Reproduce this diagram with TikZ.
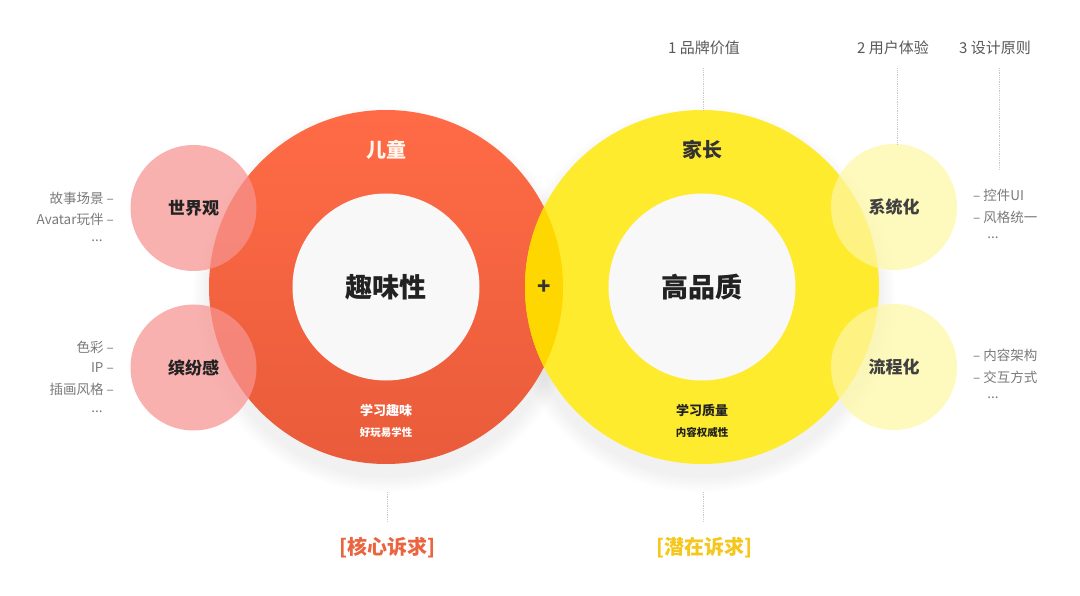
\documentclass[tikz,border=0pt]{standalone}
\usepackage{fontspec}
\setmainfont{Noto Sans CJK SC}
\usetikzlibrary{positioning}

\definecolor{redtop}{HTML}{FF6B46}
\definecolor{redbot}{HTML}{E95B3A}
\definecolor{yelring}{HTML}{FEEB2E}
\definecolor{yellens}{HTML}{FFD700}
\definecolor{corefill}{HTML}{F8F8F8}
\definecolor{pinkc}{HTML}{F89491}
\definecolor{paleyel}{HTML}{FEF7A3}
\definecolor{ink}{HTML}{222222}
\definecolor{notegray}{HTML}{7A7A7A}
\definecolor{guidegray}{HTML}{C8C8C8}
\definecolor{tagred}{HTML}{E9643F}
\definecolor{tagyel}{HTML}{F5C61C}

\begin{document}
\begin{tikzpicture}[x=1pt,y=1pt]

\newcommand{\rbig}{177}
\newcommand{\rcore}{93.5}
\newcommand{\rpet}{63}
\newcommand{\fsz}[1]{\fontsize{#1}{#1}\selectfont}

\tikzstyle{core}=[circle,fill=corefill,minimum size={2*\rcore},inner sep=0,font=\fsz{27}\bfseries,text=ink]
\tikzstyle{petal}=[circle,minimum size={2*\rpet},inner sep=0,fill opacity=0.72,text opacity=1,font=\fsz{17}\bfseries,text=ink]
\tikzstyle{note}=[font=\fsz{13.5},text=notegray,inner sep=1]
\tikzstyle{toplabel}=[font=\fsz{15},text=black!65,inner sep=1]
\tikzstyle{guide}=[guidegray,densely dotted,line width=0.8]
\tikzstyle{tag}=[font=\fsz{20}\bfseries]

\fill[white] (0,0) rectangle (1080,-596);
\useasboundingbox (0,0) rectangle (1080,-596);

% soft shadow under the rings
\foreach \cx in {386,702}
{
    \foreach \k in {1,...,14}
    {
        \fill[black,opacity=0.0035] (\cx,-299) circle ({\rbig+\k*1.2});
    }
}

% the two rings and their lens
\shade[top color=redtop,bottom color=redbot] (386,-287) circle (\rbig);
\fill[yelring] (702,-287) circle (\rbig);
\begin{scope}
    \clip (386,-287) circle (\rbig);
    \fill[yellens] (702,-287) circle (\rbig);
\end{scope}

\node[core] (quwei) at (386,-287) {趣味性};
\node[core] (pinzhi) at (702,-287) {高品质};

\node[font=\fsz{20}\bfseries,text=white!94!orange] (ertong) at (386,-150) {儿童};
\node[font=\fsz{20}\bfseries,text=black!80] (jiazhang) at (702,-150) {家长};
\node[font=\fsz{22}\bfseries,text=black!80] (plus) at (544,-287) {+};

\node[font=\fsz{13}\bfseries,text=white] (quxue) at (386,-411) {学习趣味};
\node[font=\fsz{10.5}\bfseries,text=white,below=3pt of quxue] (quxue2) {好玩易学性};
\node[font=\fsz{13}\bfseries,text=ink] (zhiliang) at (702,-411) {学习质量};
\node[font=\fsz{10.5}\bfseries,text=ink,below=3pt of zhiliang] (zhiliang2) {内容权威性};

% small circles
\node[petal,fill=pinkc] (shijie) at (193.5,-208) {世界观};
\node[petal,fill=pinkc] (binfen) at (193.5,-367.5) {缤纷感};
\node[petal,fill=paleyel,text=black!75] (xitong) at (894,-207) {系统化};
\node[petal,fill=paleyel,text=black!75] (liucheng) at (894,-367) {流程化};

% side notes
\node[note,anchor=east] (n1) at (115,-198) {故事场景 –};
\node[note,anchor=east] (n2) at (115,-219) {Avatar玩伴 –};
\node[note] (n3) at (97,-241) {...};
\node[note,anchor=east] (n4) at (115,-347) {色彩 –};
\node[note,anchor=east] (n5) at (115,-368) {IP –};
\node[note,anchor=east] (n6) at (115,-389) {插画风格 –};
\node[note] (n7) at (97,-412) {...};

\node[note,anchor=west] (m1) at (972,-195) {– 控件UI};
\node[note,anchor=west] (m2) at (972,-217) {– 风格统一};
\node[note] (m3) at (993,-238) {...};
\node[note,anchor=west] (m4) at (972,-355) {– 内容架构};
\node[note,anchor=west] (m5) at (972,-377) {– 交互方式};
\node[note] (m6) at (993,-398) {...};

% top labels and guides
\node[toplabel] (brand) at (704,-48) {1 品牌价值};
\node[toplabel] (ux) at (893,-48) {2 用户体验};
\node[toplabel] (rule) at (995,-48) {3 设计原则};

\coordinate (brandend) at (703,-110);
\coordinate (uxend) at (897,-145);
\coordinate (ruleend) at (999,-170);

\draw[guide] (brand.south -| brandend) ++(0,-12) -- (brandend);
\draw[guide] (ux.south -| uxend) ++(0,-12) -- (uxend);
\draw[guide] (rule.south -| ruleend) ++(0,-12) -- (ruleend);

% bottom tags
\node[tag,text=tagred] (hexin) at (387,-548) {[核心诉求]};
\node[tag,text=tagyel] (qianzai) at (704,-548) {[潜在诉求]};

\coordinate (hxtop) at (387,-492);
\coordinate (qztop) at (703,-492);
\draw[guide] (hxtop) -- (hxtop |- 0,-522);
\draw[guide] (qztop) -- (qztop |- 0,-522);

\end{tikzpicture}
\end{document}
